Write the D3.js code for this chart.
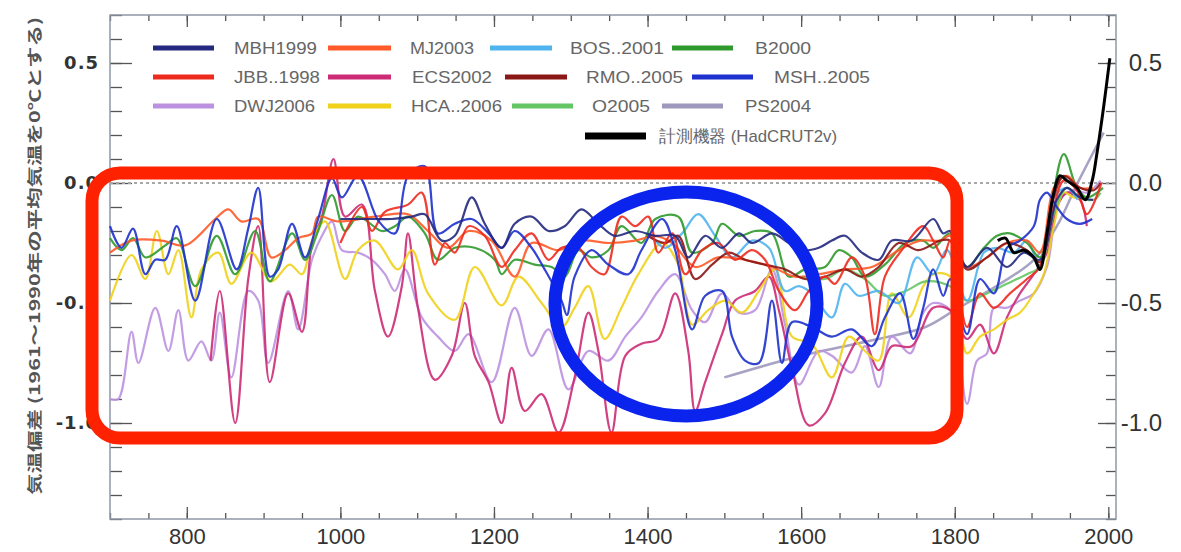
<!DOCTYPE html>
<html>
<head>
<meta charset="utf-8">
<script src="https://cdn.jsdelivr.net/npm/d3@7"></script>
<style>
  body{margin:0;background:#fff;}
  svg{display:block;}
</style>
</head>
<body>
<div id="chart"></div>
<script>
/* reconstructions of NH temperature (anomaly vs 1961-1990) */

const mbh1999 = [[1000,-0.15],[1045,-0.15],[1067,-0.15],[1093,-0.14],[1110,-0.13],[1132,-0.24],[1149,-0.22],[1171,-0.06],[1188,-0.17],[1210,-0.27],[1227,-0.17],[1249,-0.14],[1271,-0.2],[1292,-0.18],[1314,-0.11],[1336,-0.17],[1357,-0.22],[1384,-0.2],[1410,-0.22],[1436,-0.22],[1453,-0.31],[1475,-0.22],[1497,-0.27],[1519,-0.21],[1536,-0.25],[1562,-0.21],[1584,-0.25],[1601,-0.28],[1623,-0.27],[1640,-0.24],[1657,-0.22],[1679,-0.29],[1701,-0.32],[1718,-0.24],[1744,-0.24],[1772,-0.15],[1785,-0.21],[1794,-0.2],[1816,-0.35],[1842,-0.27],[1868,-0.35],[1890,-0.29],[1911,-0.32],[1933,-0.07],[1946,-0.02],[1963,-0.06],[1980,-0.07]];
const mj2003 = [[700,-0.29],[728,-0.24],[767,-0.24],[798,-0.26],[837,-0.15],[854,-0.11],[871,-0.16],[893,-0.15],[910,-0.31],[928,-0.28],[945,-0.23],[963,-0.21],[971,-0.14],[997,-0.16],[1045,-0.14],[1088,-0.13],[1114,-0.2],[1140,-0.27],[1167,-0.2],[1197,-0.24],[1227,-0.39],[1249,-0.25],[1284,-0.28],[1314,-0.24],[1349,-0.25],[1384,-0.24],[1410,-0.22],[1432,-0.25],[1462,-0.35],[1492,-0.31],[1527,-0.32],[1562,-0.35],[1592,-0.39],[1623,-0.38],[1657,-0.36],[1692,-0.35],[1727,-0.28],[1755,-0.24],[1781,-0.24],[1794,-0.22],[1816,-0.35],[1842,-0.31],[1868,-0.25],[1894,-0.24],[1911,-0.29],[1929,-0.02],[1946,0.03],[1963,-0.02],[1980,-0.02]];
const bos2001 = [[1402,-0.21],[1423,-0.27],[1445,-0.21],[1466,-0.13],[1488,-0.22],[1510,-0.31],[1536,-0.24],[1558,-0.27],[1579,-0.45],[1597,-0.43],[1614,-0.46],[1640,-0.56],[1657,-0.42],[1675,-0.47],[1701,-0.45],[1727,-0.5],[1751,-0.31],[1772,-0.38],[1790,-0.28],[1816,-0.49],[1838,-0.29],[1855,-0.27],[1877,-0.29],[1894,-0.24],[1911,-0.35],[1929,-0.06],[1946,-0.02],[1960,-0.07]];
const b2000 = [[700,-0.23],[715,-0.28],[730,-0.23],[746,-0.31],[772,-0.26],[787,-0.23],[811,-0.43],[839,-0.22],[863,-0.38],[889,-0.2],[908,-0.41],[937,-0.21],[954,-0.32],[971,-0.2],[989,-0.05],[1006,-0.2],[1023,-0.14],[1054,-0.2],[1071,-0.18],[1088,-0.14],[1110,-0.21],[1127,-0.32],[1149,-0.27],[1175,-0.27],[1201,-0.32],[1210,-0.38],[1227,-0.32],[1253,-0.34],[1275,-0.35],[1292,-0.39],[1310,-0.28],[1327,-0.31],[1349,-0.28],[1366,-0.18],[1392,-0.25],[1410,-0.15],[1440,-0.14],[1458,-0.29],[1484,-0.25],[1497,-0.17],[1519,-0.22],[1540,-0.2],[1562,-0.21],[1584,-0.39],[1605,-0.36],[1631,-0.35],[1649,-0.28],[1666,-0.31],[1683,-0.39],[1709,-0.34],[1736,-0.25],[1759,-0.24],[1772,-0.27],[1794,-0.21],[1816,-0.35],[1838,-0.27],[1855,-0.22],[1872,-0.21],[1894,-0.25],[1911,-0.31],[1924,-0.13],[1942,0.12],[1959,-0.02],[1972,-0.06],[1993,-0.02]];
const jbb1998 = [[1000,-0.25],[1028,-0.1],[1041,-0.2],[1058,-0.12],[1088,-0.09],[1106,-0.04],[1123,-0.34],[1136,-0.25],[1149,-0.29],[1167,-0.18],[1188,-0.22],[1210,-0.35],[1227,-0.28],[1249,-0.21],[1271,-0.32],[1288,-0.27],[1310,-0.27],[1327,-0.35],[1344,-0.38],[1366,-0.14],[1384,-0.18],[1401,-0.14],[1414,-0.29],[1432,-0.21],[1449,-0.38],[1471,-0.28],[1492,-0.25],[1514,-0.32],[1536,-0.28],[1553,-0.32],[1571,-0.45],[1592,-0.53],[1610,-0.45],[1631,-0.39],[1644,-0.42],[1666,-0.31],[1683,-0.39],[1696,-0.63],[1709,-0.39],[1731,-0.28],[1759,-0.18],[1772,-0.24],[1785,-0.31],[1794,-0.24],[1816,-0.6],[1833,-0.46],[1851,-0.52],[1872,-0.46],[1894,-0.4],[1911,-0.35],[1929,-0.1],[1942,0.01],[1959,-0.03],[1972,-0.13],[1991,0.0]];
const ecs2002 = [[831,-0.74],[843,-0.45],[863,-1.0],[880,-0.4],[893,-0.18],[908,-0.83],[932,-0.46],[950,-0.62],[963,-0.25],[976,-0.14],[991,0.1],[1006,-0.14],[1028,-0.09],[1045,-0.45],[1062,-0.64],[1080,-0.43],[1088,-0.21],[1101,-0.52],[1123,-0.82],[1145,-0.72],[1162,-0.5],[1175,-0.72],[1193,-0.83],[1210,-1.0],[1223,-0.77],[1240,-0.95],[1262,-0.88],[1284,-1.04],[1305,-0.81],[1323,-0.54],[1336,-0.7],[1353,-1.04],[1371,-0.72],[1392,-0.67],[1414,-0.65],[1436,-0.46],[1453,-0.7],[1462,-0.95],[1475,-0.83],[1497,-0.63],[1514,-0.49],[1540,-0.45],[1558,-0.39],[1571,-0.53],[1588,-0.77],[1610,-1.01],[1631,-0.96],[1657,-0.75],[1679,-0.64],[1701,-0.78],[1718,-0.68],[1744,-0.68],[1772,-0.52],[1794,-0.53],[1816,-0.65],[1833,-0.59],[1851,-0.71],[1868,-0.56],[1885,-0.46],[1903,-0.38],[1920,-0.29],[1933,-0.1],[1946,-0.04],[1963,-0.07],[1972,-0.18]];
const rmo2005 = [[1400,-0.22],[1423,-0.25],[1440,-0.22],[1462,-0.4],[1484,-0.34],[1506,-0.29],[1527,-0.32],[1553,-0.34],[1579,-0.36],[1605,-0.4],[1631,-0.39],[1657,-0.36],[1679,-0.39],[1701,-0.35],[1727,-0.25],[1753,-0.28],[1781,-0.24],[1794,-0.24],[1816,-0.36],[1842,-0.31],[1868,-0.25],[1894,-0.28],[1911,-0.33],[1929,-0.06],[1942,0.03],[1963,-0.02],[1981,-0.03],[1990,0.0]];
const msh2005 = [[700,-0.18],[715,-0.27],[730,-0.19],[746,-0.38],[759,-0.32],[772,-0.32],[787,-0.18],[811,-0.49],[839,-0.15],[865,-0.36],[880,-0.19],[893,-0.02],[908,-0.39],[919,-0.36],[937,-0.17],[954,-0.31],[971,-0.15],[989,0.02],[1002,-0.06],[1023,0.03],[1050,-0.16],[1071,-0.21],[1088,0.03],[1110,0.07],[1127,-0.21],[1149,-0.17],[1171,-0.15],[1193,-0.21],[1210,-0.27],[1227,-0.2],[1249,-0.27],[1266,-0.36],[1288,-0.49],[1295,-0.55],[1305,-0.39],[1327,-0.28],[1349,-0.34],[1375,-0.38],[1392,-0.28],[1419,-0.15],[1436,-0.28],[1458,-0.61],[1475,-0.47],[1497,-0.45],[1510,-0.64],[1527,-0.74],[1545,-0.75],[1562,-0.49],[1575,-0.75],[1588,-0.58],[1614,-0.6],[1640,-0.64],[1666,-0.61],[1692,-0.68],[1709,-0.56],[1729,-0.46],[1746,-0.65],[1759,-0.52],[1772,-0.36],[1785,-0.47],[1794,-0.4],[1816,-0.63],[1833,-0.4],[1851,-0.46],[1868,-0.27],[1885,-0.24],[1903,-0.18],[1911,-0.07],[1920,-0.04],[1933,-0.1],[1946,-0.15],[1963,-0.17],[1979,-0.15]];
const dwj2006 = [[700,-0.9],[711,-0.9],[728,-0.62],[737,-0.75],[759,-0.52],[776,-0.7],[789,-0.53],[802,-0.74],[819,-0.66],[832,-0.74],[843,-0.54],[858,-0.81],[880,-0.45],[893,-0.49],[906,-0.75],[932,-0.45],[945,-0.61],[963,-0.32],[976,-0.22],[989,-0.16],[1002,-0.28],[1023,-0.29],[1041,-0.32],[1058,-0.38],[1071,-0.45],[1084,-0.36],[1106,-0.56],[1127,-0.64],[1149,-0.7],[1167,-0.63],[1197,-0.83],[1227,-0.52],[1249,-0.72],[1271,-0.61],[1297,-0.86],[1323,-0.7],[1349,-0.74],[1371,-0.64],[1392,-0.56],[1414,-0.45],[1436,-0.38],[1458,-0.53],[1475,-0.58],[1497,-0.46],[1519,-0.54],[1540,-0.53],[1562,-0.36],[1579,-0.59],[1597,-0.84],[1623,-0.7],[1640,-0.72],[1666,-0.79],[1683,-0.68],[1701,-0.85],[1718,-0.64],[1742,-0.71],[1759,-0.54],[1772,-0.5],[1794,-0.53],[1816,-0.92],[1829,-0.74],[1842,-0.71],[1851,-0.52],[1868,-0.52],[1885,-0.49],[1903,-0.46],[1920,-0.35],[1937,-0.07],[1955,-0.03],[1972,-0.04],[1990,0.01]];
const hca2006 = [[700,-0.49],[728,-0.3],[746,-0.4],[761,-0.2],[776,-0.38],[789,-0.28],[806,-0.56],[819,-0.36],[841,-0.29],[858,-0.42],[884,-0.29],[910,-0.41],[934,-0.34],[950,-0.38],[963,-0.24],[980,-0.16],[1006,-0.4],[1023,-0.28],[1045,-0.24],[1075,-0.36],[1093,-0.28],[1114,-0.46],[1149,-0.57],[1175,-0.35],[1210,-0.51],[1232,-0.39],[1262,-0.5],[1288,-0.6],[1305,-0.52],[1323,-0.43],[1344,-0.65],[1366,-0.52],[1388,-0.38],[1419,-0.25],[1440,-0.34],[1458,-0.59],[1479,-0.53],[1501,-0.49],[1523,-0.54],[1545,-0.45],[1566,-0.36],[1588,-0.64],[1614,-0.67],[1640,-0.81],[1662,-0.64],[1683,-0.7],[1701,-0.74],[1718,-0.46],[1740,-0.56],[1759,-0.43],[1772,-0.38],[1794,-0.39],[1816,-0.71],[1833,-0.64],[1851,-0.61],[1868,-0.57],[1885,-0.54],[1903,-0.46],[1916,-0.38],[1929,-0.18],[1942,-0.04],[1955,-0.06],[1972,-0.06]];
const o2005 = [[1601,-0.39],[1631,-0.4],[1657,-0.36],[1683,-0.4],[1709,-0.47],[1736,-0.45],[1762,-0.41],[1794,-0.43],[1816,-0.49],[1842,-0.46],[1868,-0.42],[1894,-0.38],[1911,-0.35],[1929,-0.13],[1946,-0.02],[1963,-0.06],[1981,-0.07],[1990,-0.04]];
const ps2004 = [[1500,-0.81],[1600,-0.72],[1700,-0.65],[1762,-0.6],[1800,-0.53],[1859,-0.42],[1903,-0.32],[1933,-0.18],[1960,0.0],[1994,0.21]];
const hadcrut2v = [[1856,-0.24],[1866,-0.23],[1877,-0.29],[1890,-0.28],[1903,-0.31],[1911,-0.36],[1920,-0.21],[1929,-0.04],[1937,0.03],[1946,0.01],[1959,-0.02],[1970,-0.07],[1979,0.01],[1985,0.12],[1994,0.32],[2002,0.52]];

const seriesNames = ["MBH1999","MJ2003","BOS..2001","B2000","JBB..1998","ECS2002","RMO..2005","MSH..2005","DWJ2006","HCA..2006","O2005","PS2004","計測機器 (HadCRUT2v)"];
const seriesData  = [mbh1999, mj2003, bos2001, b2000, jbb1998, ecs2002, rmo2005, msh2005, dwj2006, hca2006, o2005, ps2004, hadcrut2v];

const xLabelTicks = [800,1000,1200,1400,1600,1800,2000];
const yLabelTicks = [-1.0,-0.5,0.0,0.5];

// styles
const colors = ["#24297f","#ff5a28","#4fb4ee","#2f9a2c","#ee2a1e","#cc2b76","#8b1616","#1d31cc","#bc92e0","#f0d21c","#64c564","#9e98bc","#000000"];
const widths = [2.2,2.2,2.2,2.2,2.2,2.2,2.2,2.2,2.2,2.2,2.2,2.5,3];
const drawOrder = [11,8,5,9,10,2,3,1,6,4,7,0,12];

// legend layout: swatch x1,x2,row y,text x,text length
const legendPos = [
  [153,214,48,234,83],[328,391,48,410,64],[490,552,48,570,94],[672,733,48,755,56],
  [153,214,77,234,86],[328,391,77,412,80],[505,567,77,586,97],[692,753,77,774,96],
  [153,214,106,234,81],[328,391,106,411,91],[512,573,106,592,58],[662,723,106,745,66],
  [585,646,136,659,178]
];

const W = 1181, H = 552;
const plot = {left:110, right:1116, top:15, bottom:519};
const sansFont = "'Liberation Sans', Arial, sans-serif";
const boldFont = "'DejaVu Sans', Verdana, sans-serif";

const svg = d3.select("#chart").append("svg")
  .attr("width",W).attr("height",H)
  .style("font-family",sansFont);

svg.append("rect").attr("width",W).attr("height",H).attr("fill","#fff");

const x = d3.scaleLinear().domain([700,2010]).range([plot.left,plot.right]);
const y = d3.scaleLinear().domain([-1.4,0.7]).range([plot.bottom,plot.top]);

const fmt = d => d.toFixed(1);
const minorX = d3.range(700,2001,50);
const minorY = d3.range(-14,8).map(v => v/10);

// ticks
function styleAxis(g){ g.select(".domain").remove(); g.selectAll("line").attr("stroke","#555").attr("stroke-width",1.3); }

svg.append("g").attr("transform",`translate(0,${plot.bottom})`)
  .call(d3.axisBottom(x).tickValues(minorX).tickSize(-6).tickFormat("")).call(styleAxis);
svg.append("g").attr("transform",`translate(0,${plot.bottom})`)
  .call(d3.axisBottom(x).tickValues(xLabelTicks).tickSizeInner(-12).tickSizeOuter(0).tickPadding(9).tickFormat(d => d))
  .call(styleAxis)
  .call(g => g.selectAll("text").attr("font-family",sansFont).attr("font-size",22).attr("fill","#333"));
svg.append("g").attr("transform",`translate(0,${plot.top})`)
  .call(d3.axisTop(x).tickValues(minorX).tickSize(-6).tickFormat("")).call(styleAxis);
svg.append("g").attr("transform",`translate(0,${plot.top})`)
  .call(d3.axisTop(x).tickValues(xLabelTicks).tickSize(-12).tickFormat("")).call(styleAxis);

svg.append("g").attr("transform",`translate(${plot.left},0)`)
  .call(d3.axisLeft(y).tickValues(minorY).tickSize(-12).tickFormat("")).call(styleAxis);
svg.append("g").attr("transform",`translate(${plot.left},0)`)
  .call(d3.axisLeft(y).tickValues(yLabelTicks).tickSizeInner(-22).tickSizeOuter(0).tickPadding(11).tickFormat(fmt))
  .call(styleAxis)
  .call(g => g.selectAll("text").attr("font-family",boldFont).attr("font-size",18)
    .attr("font-weight","bold").attr("letter-spacing",1).attr("fill","#333"));

svg.append("g").attr("transform",`translate(${plot.right},0)`)
  .call(d3.axisRight(y).tickValues(minorY).tickSize(-10).tickFormat("")).call(styleAxis);
svg.append("g").attr("transform",`translate(${plot.right},0)`)
  .call(d3.axisRight(y).tickValues(yLabelTicks).tickSizeInner(-18).tickSizeOuter(0).tickFormat(fmt))
  .call(styleAxis)
  .call(g => g.selectAll("text").attr("font-family",sansFont).attr("font-size",24).attr("fill","#333")
    .attr("text-anchor","end").attr("x",46));

// frame
svg.append("rect")
  .attr("x",plot.left).attr("y",plot.top)
  .attr("width",plot.right-plot.left).attr("height",plot.bottom-plot.top)
  .attr("fill","none").attr("stroke","#8f98a6").attr("stroke-width",1.5);

// zero line
svg.append("line")
  .attr("x1",plot.left).attr("x2",plot.right)
  .attr("y1",y(0)).attr("y2",y(0))
  .attr("stroke","#a8a8a8").attr("stroke-width",2).attr("stroke-dasharray","3,3");

// series
const line = d3.line()
  .x(d => x(d[0])).y(d => y(d[1]))
  .curve(d3.curveCatmullRom.alpha(0.5));

svg.append("g").selectAll("path")
  .data(drawOrder).enter()
  .append("path")
  .attr("d", i => line(seriesData[i]))
  .attr("fill","none")
  .attr("stroke", i => colors[i])
  .attr("stroke-width", i => widths[i])
  .attr("stroke-linejoin","round")
  .attr("opacity", i => i === 12 ? 1 : 0.9);

// legend
const leg = svg.append("g");
seriesNames.forEach((name,i) => {
  const p = legendPos[i];
  leg.append("line")
    .attr("x1",p[0]).attr("x2",p[1]).attr("y1",p[2]).attr("y2",p[2])
    .attr("stroke",colors[i]).attr("stroke-width", i === 12 ? 7 : 5);
  leg.append("text")
    .attr("x",p[3]).attr("y",p[2])
    .attr("dy","0.36em")
    .attr("font-size",17)
    .attr("fill","#666")
    .attr("textLength",p[4]).attr("lengthAdjust","spacingAndGlyphs")
    .text(name);
});

// y axis title
svg.append("text")
  .attr("transform","translate(35,256) rotate(-90)")
  .attr("text-anchor","middle")
  .attr("dy","0.35em")
  .attr("font-family","'Noto Sans CJK JP', sans-serif")
  .attr("font-size",15).attr("font-weight","bold")
  .attr("fill","#555")
  .attr("textLength",478).attr("lengthAdjust","spacingAndGlyphs")
  .text("気温偏差 (1961～1990年の平均気温を0℃とする)");

// highlight marks drawn over the chart
svg.append("rect")
  .attr("x",92).attr("y",173).attr("width",865).attr("height",265)
  .attr("rx",28).attr("ry",28)
  .attr("fill","none").attr("stroke","#ff2200").attr("stroke-width",13);

svg.append("ellipse")
  .attr("cx",686).attr("cy",304).attr("rx",131).attr("ry",112)
  .attr("fill","none").attr("stroke","#0a24ee").attr("stroke-width",13);
</script>
</body>
</html>
